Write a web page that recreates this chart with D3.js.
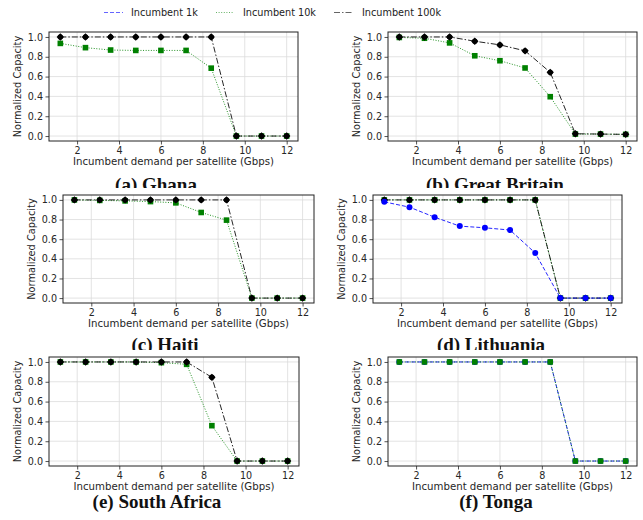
<!DOCTYPE html>
<html>
<head>
<meta charset="utf-8">
<script src="https://cdn.jsdelivr.net/npm/d3@7/dist/d3.min.js"></script>
<style>
  html, body { margin: 0; padding: 0; background: #fff; }
  svg { display: block; }
</style>
</head>
<body>
<svg id="chart" width="643" height="520"></svg>
<script>
// ---------------- DATA ----------------
const xValues = [1.2, 2.4, 3.6, 4.8, 6.0, 7.2, 8.4, 9.6, 10.8, 12.0];
const xTicks = [2, 4, 6, 8, 10, 12];
const yTicks = [0.0, 0.2, 0.4, 0.6, 0.8, 1.0];
const seriesNames = ["Incumbent 1k", "Incumbent 10k", "Incumbent 100k"];
const panelTitles = ["(a) Ghana", "(b) Great Britain", "(c) Haiti", "(d) Lithuania", "(e) South Africa", "(f) Tonga"];
const xLabel = "Incumbent demand per satellite (Gbps)";
const yLabel = "Normalized Capacity";

const ghana10k  = [0.935, 0.892, 0.868, 0.864, 0.864, 0.864, 0.685, 0, 0, 0];
const ghana100k = [1, 1, 1, 1, 1, 1, 1, 0, 0, 0];

const britain10k  = [0.995, 0.987, 0.94, 0.81, 0.76, 0.687, 0.397, 0.02, 0.02, 0.017];
const britain100k = [1, 1, 1, 0.957, 0.92, 0.86, 0.643, 0.023, 0.02, 0.017];

const haiti10k  = [1, 0.995, 0.99, 0.983, 0.97, 0.872, 0.794, 0, 0, 0];
const haiti100k = [1, 1, 1, 1, 1, 1, 1, 0, 0, 0];

const lithuania1k   = [0.98, 0.926, 0.824, 0.733, 0.716, 0.693, 0.459, 0, 0, 0];
const lithuania10k  = [1, 1, 1, 1, 1, 1, 1, 0, 0, 0];
const lithuania100k = [1, 1, 1, 1, 1, 1, 1, 0, 0, 0];

const southAfrica10k  = [1, 1, 1, 1, 0.993, 0.976, 0.357, 0, 0, 0];
const southAfrica100k = [1, 1, 1, 1, 1, 1, 0.845, 0, 0, 0];

const tonga1k  = [1, 1, 1, 1, 1, 1, 1, 0, 0, 0];
const tonga10k = [1, 1, 1, 1, 1, 1, 1, 0, 0, 0];

// series per panel, in drawing order (index into seriesNames)
const panelSeries = [
  [[1, ghana10k], [2, ghana100k]],
  [[1, britain10k], [2, britain100k]],
  [[1, haiti10k], [2, haiti100k]],
  [[1, lithuania10k], [2, lithuania100k], [0, lithuania1k]],
  [[1, southAfrica10k], [2, southAfrica100k]],
  [[0, tonga1k], [1, tonga10k]]
];

// ---------------- STYLE / LAYOUT ----------------
const styles = [
  { color: "#0000ff", dash: "4,2", marker: "circle" },
  { color: "#008000", dash: "1,1.6", marker: "square" },
  { color: "#000000", dash: "6,2,1.5,2", marker: "diamond" }
];

const layout = [
  { l: 49,  r: 298, t: 32,  b: 141, cap: 156, capY: 191, clip: 188 },
  { l: 388, r: 637, t: 32,  b: 141, cap: 495, capY: 191, clip: 188 },
  { l: 63,  r: 314, t: 195, b: 303, cap: 165, capY: 351, clip: 350 },
  { l: 373, r: 622, t: 195, b: 303, cap: 491, capY: 351, clip: 350 },
  { l: 49,  r: 299, t: 357, b: 466, cap: 157, capY: 508, clip: 520 },
  { l: 388, r: 637, t: 357, b: 466, cap: 496, capY: 508, clip: 520 }
];

const svg = d3.select("#chart");
const tickFont = "DejaVu Sans, sans-serif";
const defs = svg.append("defs");

function drawMarker(g, type, x, y, color) {
  if (type === "circle") {
    g.append("circle").attr("cx", x).attr("cy", y).attr("r", 3).attr("fill", color);
  } else if (type === "square") {
    g.append("rect").attr("x", x - 2.8).attr("y", y - 2.8).attr("width", 5.6).attr("height", 5.6).attr("fill", color);
  } else {
    g.append("rect").attr("x", -2.6).attr("y", -2.6).attr("width", 5.2).attr("height", 5.2)
      .attr("transform", `translate(${x},${y}) rotate(45)`).attr("fill", color);
    g.append("circle").attr("cx", x).attr("cy", y).attr("r", 2.7).attr("fill", color);
  }
}

layout.forEach((p, i) => {
  const g = svg.append("g");
  const x = d3.scaleLinear().domain([0.66, 12.54]).range([p.l, p.r]);
  const y = d3.scaleLinear().domain([-0.05, 1.05]).range([p.b, p.t]);

  // grid
  g.append("g").selectAll("line.gx").data(xTicks).join("line")
    .attr("x1", d => x(d)).attr("x2", d => x(d)).attr("y1", p.t).attr("y2", p.b)
    .attr("stroke", "#dcdcdc").attr("stroke-width", 0.8);
  g.append("g").selectAll("line.gy").data(yTicks).join("line")
    .attr("y1", d => y(d)).attr("y2", d => y(d)).attr("x1", p.l).attr("x2", p.r)
    .attr("stroke", "#dcdcdc").attr("stroke-width", 0.8);

  // axes
  const xa = g.append("g").attr("transform", `translate(0,${p.b})`)
    .call(d3.axisBottom(x).tickValues(xTicks).tickFormat(d3.format("d")).tickSize(3.5).tickPadding(2.5));
  const ya = g.append("g").attr("transform", `translate(${p.l},0)`)
    .call(d3.axisLeft(y).tickValues(yTicks).tickFormat(d3.format(".1f")).tickSize(3.5).tickPadding(2.5));
  [xa, ya].forEach(a => {
    a.select(".domain").remove();
    a.selectAll("text").attr("font-family", tickFont).attr("font-size", 9.6).attr("fill", "#262626");
    a.selectAll("line").attr("stroke", "#262626").attr("stroke-width", 0.8);
  });

  // series
  const line = d3.line().x((d, k) => x(xValues[k])).y(d => y(d));
  const sg = g.append("g");
  panelSeries[i].forEach(([si, vals]) => {
    const st = styles[si];
    sg.append("path").attr("d", line(vals)).attr("fill", "none")
      .attr("stroke", st.color).attr("stroke-width", 1).attr("stroke-dasharray", st.dash)
      .attr("opacity", 0.85);
    vals.forEach((v, k) => drawMarker(sg, st.marker, x(xValues[k]), y(v), st.color));
  });

  // frame
  g.append("rect").attr("x", p.l).attr("y", p.t).attr("width", p.r - p.l).attr("height", p.b - p.t)
    .attr("fill", "none").attr("stroke", "#222").attr("stroke-width", 1);

  // axis labels
  g.append("text").attr("x", (p.l + p.r) / 2).attr("y", p.b + 24)
    .attr("text-anchor", "middle").attr("font-family", tickFont).attr("font-size", 10.2)
    .attr("fill", "#262626").text(xLabel);
  g.append("text").attr("transform", `translate(${p.l - 28},${(p.t + p.b) / 2}) rotate(-90)`)
    .attr("text-anchor", "middle").attr("font-family", tickFont).attr("font-size", 9.8)
    .attr("fill", "#262626").text(yLabel);

  // caption (clipped by next row like in the reference)
  defs.append("clipPath").attr("id", "cap" + i).append("rect")
    .attr("x", 0).attr("y", p.b).attr("width", 643).attr("height", p.clip - p.b);
  g.append("text").attr("clip-path", `url(#cap${i})`)
    .attr("x", p.cap).attr("y", p.capY).attr("text-anchor", "middle")
    .attr("font-family", "Liberation Serif, serif").attr("font-weight", "bold")
    .attr("font-size", 19).attr("fill", "#111").text(panelTitles[i]);
});

// legend
const legendItems = [
  { x1: 104, x2: 123, tx: 131 },
  { x1: 216, x2: 234, tx: 243 },
  { x1: 334, x2: 353, tx: 362 }
];
const lg = svg.append("g");
seriesNames.forEach((name, i) => {
  const it = legendItems[i];
  lg.append("line").attr("x1", it.x1).attr("x2", it.x2).attr("y1", 12.5).attr("y2", 12.5)
    .attr("stroke", styles[i].color).attr("stroke-width", 1).attr("stroke-dasharray", styles[i].dash)
    .attr("opacity", 0.6);
  lg.append("text").attr("x", it.tx).attr("y", 16).attr("font-family", tickFont)
    .attr("font-size", 9.7).attr("fill", "#222").text(name);
});
</script>
</body>
</html>
